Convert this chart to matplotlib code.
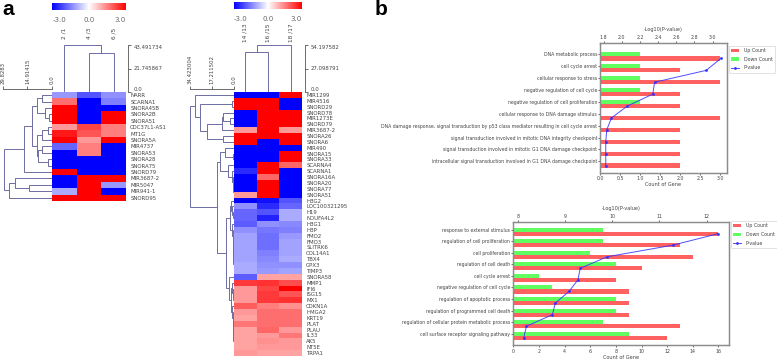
import matplotlib
matplotlib.use("Agg")
import matplotlib.pyplot as plt
import numpy as np
from matplotlib.colors import LinearSegmentedColormap
from matplotlib.cm import ScalarMappable
from matplotlib.colors import Normalize

W, H = 777, 360
TXT = "#444444"
TREE = "#6d6da3"
cmap = LinearSegmentedColormap.from_list("bwr2", ["#0000ff", "#ffffff", "#ff0000"])

# panel a, left heatmap
left_genes = ["NARR", "SCARNA1", "SNORA45B", "SNORA2B", "SNORA51", "CDC37L1-AS1", "MT1G", "SNORA5A",
              "MIR4737", "SNORA53", "SNORA28", "SNORA75", "SNORD79", "MIR3687-2", "MIR5047", "MIR941-1", "SNORD95"]
left_cols = ["2 /1", "4 /3", "6 /5"]
left_vals = [[-1.2, -2.0, -1.3], [1.7, -3, -1.5], [3, -3, -3], [3, -3, 3], [3, -3, 3],
             [1.2, 2.2, 1.5], [2.7, 2.0, 1.5], [3, 1.2, 3], [-1.8, 1.5, -3], [-3, 1.5, -3],
             [-3, -3, -3], [-3, -3, -3], [3, -3, -3], [-3, 3, 3], [-3, 3, -1.2], [-1, 3, -3], [3, 3, 3]]
left_col_tree = (0, (1, 2, 35.8), 43.49)
left_row_tree = ((((((0, 1, 6.2), (2, (3, 4, 1.8), 4.2), 8.9), (((5, 6, 2.2), 7, 6.2), (((8, 9, 6.2), (10, 11, 2.2), 8.3)), 8.9), 12.3), 12, 17)),
                 ((13, (14, 15, 14.3), 22.4), 16, 26.4), 29.4)
left_col_ticks = [0.0, 21.745867, 43.491734]
left_col_labels = ["0.0", "21.745867", "43.491734"]
left_row_ticks = [29.8283, 14.91415, 0.0]
left_row_labels = ["29.8283", "14.91415", "0.0"]

# panel a, right heatmap
right_genes = ["MIR1299", "MIR4516", "SNORD29", "SNORD78", "MIR1273E", "SNORD79", "MIR3687-2", "SNORA26", "SNORA6",
               "MIR490", "SNORA15", "SNORA33", "SCARNA4", "SCARNA1", "SNORA16A", "SNORA20", "SNORA77", "SNORA51",
               "HBG2", "LOC100321295", "H19", "NDUFA4L2", "HBG1", "HBP", "FMO2", "FMO3", "SLITRK6", "COL14A1",
               "TBX4", "GPX3", "TIMP3", "SNORA58", "MMP1", "IFI6", "ISG15", "MX1", "CDKN1A", "HMGA2", "KRT19",
               "PLAT", "PLAU", "IL33", "AK5", "NT5E", "TRPA1"]
right_cols = ["14 /13", "16 /15", "18 /17"]
right_vals = [[-3, -3, 3], [3, 3, -3], [3, 3, -3], [-3, 3, 3], [-3, 3, 3], [-3, 3, 3], [1.2, 3, 1.2], [3, 3, 3],
              [3, -3, 3], [-3, -3, -3], [-3, -3, 3], [-3, -3, 3], [-3, 3, 1.8], [-2.5, 3, -3], [-3, 1.8, -3],
              [-3, 3, -3], [-3, 3, -3], [1.2, 3, -3],
              [-3, -2.8, -2.0], [-1.3, -2.5, -1.8], [-1.8, -2.0, -1.0], [-1.8, -2.6, -1.0], [-1.9, -1.3, -1.4],
              [-1.3, -1.6, -1.5], [-1.1, -1.7, -1.2], [-1.1, -1.7, -1.1], [-1.1, -1.7, -1.1], [-1.1, -1.5, -1.1],
              [-1.1, -1.4, -1.0], [-1.0, -1.3, -1.3], [-1.0, -1.2, -1.1],
              [-1.9, 1.1, 1.1], [2.3, 2.4, 2.1], [1.2, 2.2, 3], [1.2, 2.3, 2.0], [1.2, 2.3, 2.4], [1.9, 1.5, 1.3],
              [1.2, 1.7, 1.7], [1.1, 1.7, 1.7], [1.6, 1.7, 1.7], [1.1, 1.8, 1.2], [1.1, 1.2, 1.6], [1.1, 1.3, 1.2],
              [1.1, 1.2, 1.2], [1.2, 1.1, 1.1]]
right_col_tree = ((0, 1, 46.0), 2, 54.2)
tree_top = (0, ((1, 2, 1.8), (((3, (4, 5, 3.1), 8.3), 6, 9.6), (7, 8, 8.3), 21.4), 26.6), 30.5)
tree_mid = ((9, (10, 11, 0.5), 7.0), (12, (13, (14, (15, (16, 17, 0.3), 0.6), 1.0), 1.8), 5.0), 10.9)
tree_blue = ((18, (19, (20, 21, 0.8), 1.2), 2.0), (22, (23, (24, (25, (26, (27, (28, (29, 30, 0.2), 0.3), 0.4), 0.5), 0.6), 0.7), 0.9), 1.4), 3.0)
tree_red = (31, ((32, (33, (34, 35, 0.5), 1.0), 1.6), (36, (37, (38, (39, (40, (41, (42, (43, 44, 0.1), 0.2), 0.3), 0.4), 0.5), 0.6), 0.8), 1.2), 2.2), 3.6)
right_row_tree = (tree_top, (tree_mid, (tree_blue, tree_red, 6.2), 13.5), 34.42)
right_col_ticks = [0.0, 27.098791, 54.197582]
right_col_labels = ["0.0", "27.098791", "54.197582"]
right_row_ticks = [34.423004, 17.211502, 0.0]
right_row_labels = ["34.423004", "17.211502", "0.0"]

# panel b, upper chart
terms1 = ["DNA metabolic process", "cell cycle arrest", "cellular response to stress",
          "negative regulation of cell cycle", "negative regulation of cell proliferation",
          "cellular response to DNA damage stimulus",
          "DNA damage response, signal transduction by p53 class mediator resulting in cell cycle arrest",
          "signal transduction involved in mitotic DNA integrity checkpoint",
          "signal transduction involved in mitotic G1 DNA damage checkpoint",
          "intracellular signal transduction involved in G1 DNA damage checkpoint"]
up1 = [3, 2, 3, 2, 2, 3, 2, 2, 2, 2]
down1 = [1, 1, 1, 1, 1, 0, 0, 0, 0, 0]
pval1 = [3.09, 2.93, 2.36, 2.34, 2.06, 1.885, 1.833, 1.822, 1.822, 1.822]

# panel b, lower chart
terms2 = ["response to external stimulus", "regulation of cell proliferation", "cell proliferation",
          "regulation of cell death", "cell cycle arrest", "negative regulation of cell cycle",
          "regulation of apoptotic process", "regulation of programmed cell death",
          "regulation of cellular protein metabolic process", "cell surface receptor signaling pathway"]
up2 = [16, 13, 14, 10, 8, 9, 9, 9, 13, 12]
down2 = [7, 7, 6, 8, 2, 3, 8, 8, 7, 9]
pval2 = [12.25, 11.28, 9.89, 9.32, 9.27, 9.08, 8.79, 8.73, 8.18, 8.12]

fig = plt.figure(figsize=(W / 100, H / 100), dpi=100)


def ax_px(x0, y0, x1, y1):
    return fig.add_axes([x0 / W, 1 - y1 / H, (x1 - x0) / W, (y1 - y0) / H])


def draw_tree(ax, node, vertical):
    # returns leaf position and height of the node
    if not isinstance(node, tuple):
        return node, 0.0
    a, b, h = node
    pa, ha = draw_tree(ax, a, vertical)
    pb, hb = draw_tree(ax, b, vertical)
    ps = [pa, pa, pb, pb]
    hs = [ha, h, h, hb]
    if vertical:
        ax.plot(ps, hs, color=TREE, lw=0.7, solid_joinstyle="miter")
    else:
        ax.plot(hs, ps, color=TREE, lw=0.7, solid_joinstyle="miter")
    return (pa + pb) / 2, h


def heat_block(box, vals, genes, cols, col_tree, row_tree, col_ticks, col_labels, row_ticks, row_labels,
               cbar_y, tree_left, scale_x):
    x0, y0, x1, y1 = box
    n = len(genes)
    ax = ax_px(x0, y0, x1, y1)
    ax.imshow(np.array(vals), cmap=cmap, vmin=-3, vmax=3, aspect="auto", interpolation="nearest")
    ax.set_xticks([])
    ax.yaxis.tick_right()
    ax.set_yticks(range(n))
    ax.set_yticklabels(genes, fontsize=3.9, color=TXT)
    ax.tick_params(axis="y", length=0, pad=3)
    for s in ax.spines.values():
        s.set_visible(False)

    # colour key
    cax = ax_px(x0, cbar_y, x1, cbar_y + 7)
    cb = fig.colorbar(ScalarMappable(Normalize(-3, 3), cmap), cax=cax, orientation="horizontal")
    cb.set_ticks([-2.4, 0, 2.5])
    cb.set_ticklabels(["-3.0", "0.0", "3.0"])
    cb.ax.tick_params(length=0, labelsize=5, labelcolor="#666666", pad=5)
    cb.outline.set_visible(False)

    # column tree with its scale
    top = ax_px(x0, 45, x1, y0)
    top.spines["right"].set_position(("outward", scale_x))
    draw_tree(top, col_tree, True)
    top.set_xlim(-0.5, 2.5)
    top.set_ylim(0, col_ticks[-1])
    top.set_xticks([])
    top.yaxis.tick_right()
    top.set_yticks(col_ticks)
    top.set_yticklabels(col_labels, fontsize=3.9, color=TXT)
    labs = top.get_yticklabels()
    labs[0].set_va("bottom")
    labs[-1].set_va("top")
    top.tick_params(axis="y", length=2, width=0.6, color="#555555", pad=2)
    for s in ["top", "left", "bottom"]:
        top.spines[s].set_visible(False)
    top.spines["right"].set_linewidth(0.6)
    top.spines["right"].set_color("#555555")
    top.patch.set_visible(False)

    for i, c in enumerate(cols):
        xp = x0 + (x1 - x0) * (i + 0.5) / 3
        fig.text(xp / W, 1 - 33 / H, c, rotation=90, fontsize=4.2, color=TXT, ha="center", va="center")

    # row tree with its scale
    side = ax_px(tree_left, y0, x0, y1)
    side.spines["top"].set_position(("outward", 2.5))
    draw_tree(side, row_tree, False)
    side.set_xlim(row_ticks[0], 0)
    side.set_ylim(n - 0.5, -0.5)
    side.set_yticks([])
    side.xaxis.tick_top()
    side.set_xticks(row_ticks)
    side.set_xticklabels(row_labels, rotation=90, fontsize=3.9, color=TXT)
    side.tick_params(axis="x", length=2, width=0.6, color="#555555", pad=1.5)
    for s in ["left", "right", "bottom"]:
        side.spines[s].set_visible(False)
    side.spines["top"].set_linewidth(0.6)
    side.spines["top"].set_color("#555555")
    side.patch.set_visible(False)


def bar_chart(box, terms, up, down, pval, xlim, xticks, toplim, topticks, ylim, legend_at):
    x0, y0, x1, y1 = box
    ypos = np.arange(len(terms))
    ax = ax_px(x0, y0, x1, y1)
    b1 = ax.barh(ypos + 0.35, up, height=0.35, color="#ff6060", label="Up Count")
    b2 = ax.barh(ypos, down, height=0.35, color="#60ff60", label="Down Count")
    ax.set_xlim(*xlim)
    ax.set_xticks(xticks)
    ax.set_ylim(*ylim)
    ax.set_yticks(ypos)
    ax.set_yticklabels(terms, fontsize=3.3, color=TXT)
    ax.set_xlabel("Count of Gene", fontsize=3.6, color=TXT, labelpad=1)
    ax.tick_params(axis="x", labelsize=3.4, labelcolor=TXT, length=1.2, width=0.4, pad=1.2)
    ax.tick_params(axis="y", length=1.2, width=0.4, pad=1.2)
    ax2 = ax.twiny()
    ln, = ax2.plot(pval, ypos + 0.35, color="#3030ff", lw=0.7, marker="o", ms=1.1, label="P-value", alpha=0.85)
    ax2.set_xlim(*toplim)
    ax2.set_xticks(topticks)
    ax2.set_xlabel("-Log10(P-value)", fontsize=3.6, color=TXT, labelpad=3)
    ax2.tick_params(axis="x", labelsize=3.4, labelcolor=TXT, length=1.2, width=0.4, pad=1.2)
    for a in [ax, ax2]:
        for s in a.spines.values():
            s.set_color("#8c8c8c")
            s.set_linewidth(0.9)
    fig.legend(handles=[b1, b2, ln], loc="upper left", bbox_to_anchor=(legend_at[0] / W, 1 - legend_at[1] / H),
               fontsize=3.4, labelcolor=TXT, frameon=True, borderaxespad=0, handlelength=1.7, handletextpad=0.9,
               borderpad=0.5, labelspacing=0.8, edgecolor="#cccccc", fancybox=True, framealpha=1).get_frame().set_linewidth(0.4)


heat_block((52, 92, 126, 200.7), left_vals, left_genes, left_cols, left_col_tree, left_row_tree,
           left_col_ticks, left_col_labels, left_row_ticks, left_row_labels, 3, 3, 1.5)
heat_block((234, 92, 302, 356), right_vals, right_genes, right_cols, right_col_tree, right_row_tree,
           right_col_ticks, right_col_labels, right_row_ticks, right_row_labels, 2, 190, 2)

bar_chart((600.4, 43.3, 726.7, 172.7), terms1, up1, down1, pval1, (0, 3.155), np.arange(0, 3.5, 0.5),
          (1.763, 3.155), np.arange(1.8, 3.2, 0.2), (9.95, -0.92), (729, 45.5))
bar_chart((513.3, 222.3, 728.7, 345.3), terms2, up2, down2, pval2, (0, 16.8), np.arange(0, 18, 2),
          (7.9, 12.47), [8, 9, 10, 11, 12], (10.0, -0.63), (731, 221))

fig.text(2 / W, 1 - 15 / H, "a", fontsize=15, fontweight="bold", color="black", family="Liberation Sans")
fig.text(375 / W, 1 - 15 / H, "b", fontsize=15, fontweight="bold", color="black", family="Liberation Sans")

fig.savefig("out.png", dpi=100)
